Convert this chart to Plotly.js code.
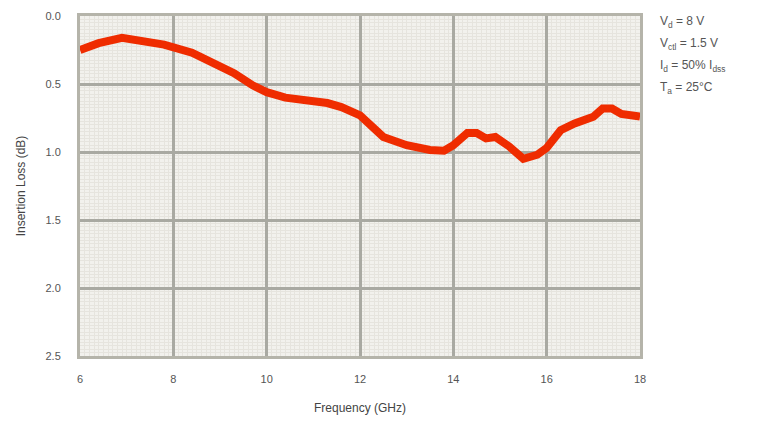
<!DOCTYPE html>
<html><head><meta charset="utf-8">
<script src="https://cdn.plot.ly/plotly-3.0.1.min.js"></script>
<style>html,body{margin:0;padding:0;background:#fff}#chart{width:762px;height:425px}</style>
</head><body><div id="chart"></div>
<script>
const freqGHz = [6.0, 6.4, 6.9, 7.2, 7.8, 8.4, 8.9, 9.3, 9.7, 10.0, 10.4, 10.9, 11.3, 11.6, 12.0, 12.5, 13.0, 13.5, 13.8, 14.0, 14.3, 14.5, 14.7, 14.9, 15.2, 15.5, 15.8, 16.0, 16.3, 16.6, 17.0, 17.2, 17.4, 17.6, 18.0];
const lossDb = [0.25, 0.20, 0.16, 0.18, 0.21, 0.27, 0.35, 0.42, 0.51, 0.56, 0.60, 0.62, 0.64, 0.67, 0.73, 0.89, 0.95, 0.985, 0.99, 0.95, 0.86, 0.86, 0.90, 0.89, 0.96, 1.05, 1.02, 0.97, 0.84, 0.79, 0.74, 0.68, 0.68, 0.72, 0.74];
const xTicks = [6, 8, 10, 12, 14, 16, 18];
const yTicks = [0.0, 0.5, 1.0, 1.5, 2.0, 2.5];
const yTickText = ["0.0", "0.5", "1.0", "1.5", "2.0", "2.5"];
const conditions = ["V<sub>d</sub> = 8 V", "V<sub>ctl</sub> = 1.5 V", "I<sub>d</sub> = 50% I<sub>dss</sub>", "T<sub>a</sub> = 25°C"];

const font = {family: "Liberation Sans, Arial, sans-serif", size: 11, color: "#555"};
const layout = {
  width: 762, height: 425,
  margin: {l: 80, r: 122, t: 16, b: 69},
  paper_bgcolor: "#fff", plot_bgcolor: "#f2f1ed",
  font: font,
  showlegend: false,
  xaxis: {
    range: [6, 18], tickvals: xTicks, ticktext: xTicks.map(String),
    showgrid: true, gridcolor: "#a9a9a2", gridwidth: 3,
    zeroline: false, showline: true, linecolor: "#b5b4aa", linewidth: 3, mirror: true,
    ticks: "outside", ticklen: 11, tickcolor: "rgba(0,0,0,0)",
    minor: {dtick: 0.1, showgrid: true, gridcolor: "#e6e4de", gridwidth: 1, ticks: ""},
    title: {text: "Frequency (GHz)", font: {size: 12, color: "#444"}, standoff: 20},
    fixedrange: true
  },
  yaxis: {
    range: [2.5, 0], tickvals: yTicks, ticktext: yTickText,
    showgrid: true, gridcolor: "#a9a9a2", gridwidth: 3,
    zeroline: false, showline: true, linecolor: "#b5b4aa", linewidth: 3, mirror: true,
    ticks: "outside", ticklen: 14, tickcolor: "rgba(0,0,0,0)",
    minor: {dtick: 0.025, showgrid: true, gridcolor: "#e6e4de", gridwidth: 1, ticks: ""},
    title: {text: "Insertion Loss (dB)", font: {size: 12, color: "#444"}, standoff: 18},
    fixedrange: true
  },
  annotations: conditions.map((t, i) => ({
    xref: "paper", yref: "paper", x: 1, xshift: 18, y: 1, yshift: 4 - i * 22,
    xanchor: "left", yanchor: "top", showarrow: false, align: "left",
    text: t, font: {size: 12, color: "#555"}
  }))
};
const data = [{
  x: freqGHz, y: lossDb, type: "scatter", mode: "lines",
  line: {color: "#ef2c00", width: 8, shape: "linear"}, hoverinfo: "skip"
}];
Plotly.newPlot("chart", data, layout, {staticPlot: true, displayModeBar: false});
</script></body></html>
